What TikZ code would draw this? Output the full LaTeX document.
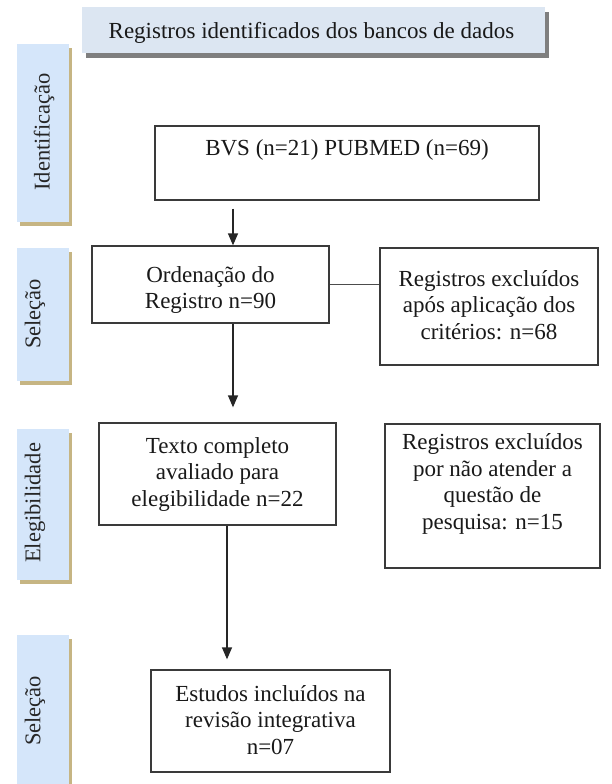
\documentclass[tikz,border=0pt]{standalone}
\usepackage{fontspec}
\setmainfont{Liberation Serif}
\usetikzlibrary{arrows.meta,shadows}
\definecolor{hdrfill}{HTML}{DCE6F2}
\definecolor{hdrshadow}{HTML}{7F7F7F}
\definecolor{sidefill}{HTML}{D5E6FA}
\definecolor{sideshadow}{HTML}{C6B583}
\definecolor{boxline}{HTML}{3A3A3A}
\begin{document}
\begin{tikzpicture}[x=1pt,y=-1pt,
  box/.style={draw=boxline,line width=1.3pt,fill=white,inner sep=0pt,minimum width=#1},
  txt/.style={font=\fontsize{23}{26.5}\selectfont,align=center,inner sep=0pt,text=black!90},
  hdr/.style={fill=hdrfill,inner sep=0pt,drop shadow={shadow xshift=4pt,shadow yshift=-5pt,fill=hdrshadow,opacity=1}},
  side/.style={fill=sidefill,inner sep=0pt,minimum width=52pt,drop shadow={shadow xshift=3pt,shadow yshift=-4pt,fill=sideshadow,opacity=1}},
  sidetxt/.style={font=\fontsize{22.5}{24}\selectfont,rotate=90,inner sep=0pt,text=black!85},
  arr/.style={line width=1.3pt,draw=black!85,-{Triangle[width=10pt,length=12pt]}},
  conn/.style={line width=1.3pt,draw=black!70}]
\useasboundingbox (0,0) rectangle (611,784);

% header
\node[hdr,minimum width=463pt,minimum height=46pt] (hdr) at (313.5,30) {};
\node[txt] (hdrt) at (311.5,33) {Registros identificados dos bancos de dados};

% side labels
\node[side,minimum height=178pt] (s1) at (43,133) {};
\node[sidetxt] (s1t) at (44,132) {Identificação};
\node[side,minimum height=133pt] (s2) at (43,314.5) {};
\node[sidetxt] (s2t) at (35,314) {Seleção};
\node[side,minimum height=151pt] (s3) at (43,504.5) {};
\node[sidetxt] (s3t) at (35,503) {Elegibilidade};
\node[side,minimum height=160pt] (s4) at (43,715) {};
\node[sidetxt] (s4t) at (35,711) {Seleção};

% boxes
\node[box=384pt,minimum height=74pt] (bvs) at (347,163) {};
\node[txt] (bvst) at (347,150) {BVS (n=21) PUBMED (n=69)};

\node[box=237pt,minimum height=77pt] (ord) at (210.5,284.5) {};
\node[txt] (ordt) at (210.5,290) {Ordenação do\\Registro n=90};

\node[box=218pt,minimum height=117pt] (exc1) at (489,306.5) {};
\node[txt] (exc1t) at (489,305) {Registros excluídos\\após aplicação dos\\critérios: n=68};

\node[box=237pt,minimum height=102pt] (tex) at (217.5,474) {};
\node[txt] (text) at (217.5,474) {Texto completo\\avaliado para\\elegibilidade n=22};

\node[box=215pt,minimum height=144pt] (exc2) at (492.5,496) {};
\node[txt] (exc2t) at (492.5,484) {Registros excluídos\\por não atender a\\questão de\\pesquisa: n=15};

\node[box=239pt,minimum height=102pt] (est) at (270.5,721) {};
\node[txt] (estt) at (270.5,720) {Estudos incluídos na\\revisão integrativa\\n=07};

% connectors
\coordinate (c1) at (233,0);
\coordinate (c2) at (227,0);
\draw[arr] ([yshift=-8pt]bvs.south -| c1) -- (ord.north -| c1);
\draw[arr] (ord.south -| c1) -- ([yshift=15pt]tex.north -| c1);
\draw[conn] (ord.east) -- (ord.east -| exc1.west);
\draw[arr] (tex.south -| c2) -- ([yshift=10pt]est.north -| c2);
\end{tikzpicture}
\end{document}
